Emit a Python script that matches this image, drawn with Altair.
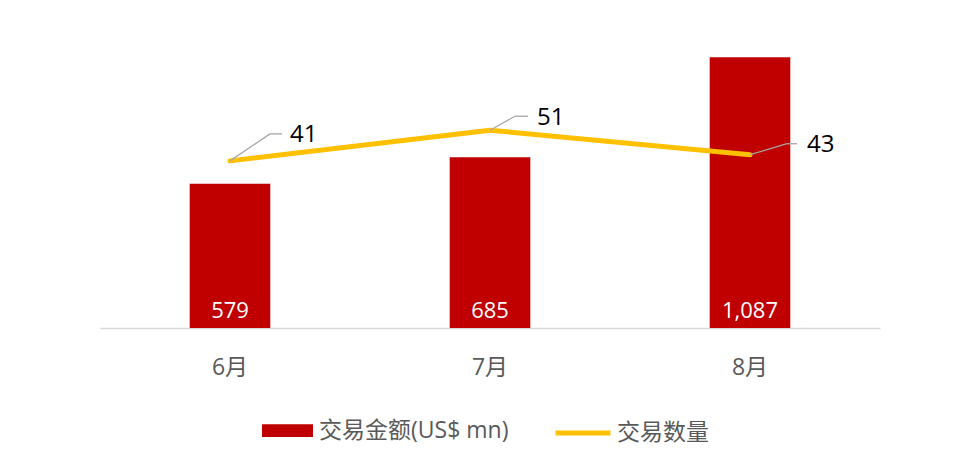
import altair as alt
import pandas as pd

months = ["6月", "7月", "8月"]
amounts = [579, 685, 1087]
counts = [41, 51, 43]
bar_series = "交易金额(US$ mn)"
line_series = "交易数量"

# style: leader-line / label placement per point (pixels): slant dx, dy, horizontal length, text dx, text dy
label_style = {
    "6月": (40, -27, 12, 60, -26),
    "7月": (25, -14, 13, 47, -12),
    "8月": (37, -11, 10, 57, -10),
}

FONT = "Open Sans, Noto Sans CJK SC, sans-serif"

df = pd.DataFrame({"month": months, "amount": amounts, "count": counts})
df["bar_series"] = bar_series
df["line_series"] = line_series
base = alt.Chart(df)

x = alt.X(
    "month:N",
    sort=months,
    scale=alt.Scale(paddingInner=0.69, paddingOuter=0.345),
    axis=alt.Axis(
        title=None, labelAngle=0, labelFontSize=23, labelColor="#595959",
        labelPadding=28, ticks=False, domainColor="#d9d9d9", domainWidth=1.3,
        grid=False, labelFont=FONT,
    ),
)

y_bar = alt.Y("amount:Q", scale=alt.Scale(domain=[0, 1200], nice=False, zero=True), axis=None)
y_line = alt.Y("count:Q", scale=alt.Scale(domain=[-13.5, 84], nice=False, zero=False), axis=None)

bars = base.mark_bar().encode(
    x=x,
    y=y_bar,
    fill=alt.Fill(
        "bar_series:N",
        scale=alt.Scale(domain=[bar_series], range=["#c00000"]),
        legend=alt.Legend(
            orient="none", legendX=162, legendY=376, title=None,
            symbolType="M-1,-0.25H1V0.25H-1Z", symbolSize=2601, symbolStrokeWidth=0,
            labelFontSize=23, labelColor="#595959", labelOffset=6, padding=0,
            labelFont=FONT, labelLimit=400,
        ),
    ),
)

bar_text = base.mark_text(
    color="white", fontSize=22, baseline="alphabetic", dy=-10, font=FONT
).encode(
    x=x,
    y=alt.YDatum(0),
    text=alt.Text("amount:Q", format=","),
)

bar_group = alt.layer(bars, bar_text)

line = base.mark_line(strokeWidth=5, strokeCap="round", strokeJoin="round").encode(
    x=x,
    y=y_line,
    stroke=alt.Stroke(
        "line_series:N",
        scale=alt.Scale(domain=[line_series], range=["#ffc000"]),
        legend=alt.Legend(
            orient="none", legendX=453, legendY=374, title=None,
            symbolType="stroke", symbolSize=3025, symbolStrokeWidth=5,
            labelFontSize=23, labelColor="#595959", labelOffset=4, padding=0,
            labelFont=FONT, labelLimit=400,
        ),
    ),
)

line_layers = [line]
for m in months:
    sdx, sdy, hl, tdx, tdy = label_style[m]
    sub = base.transform_filter(alt.datum.month == m)
    slant = sub.mark_rule(color="#a6a6a6", strokeWidth=1.3, x2Offset=sdx, y2Offset=sdy).encode(
        x=x, x2=alt.X2("month"), y=y_line, y2=alt.Y2("count"),
    )
    horiz = sub.mark_rule(
        color="#a6a6a6", strokeWidth=1.3, xOffset=sdx, x2Offset=sdx + hl, yOffset=sdy,
    ).encode(x=x, x2=alt.X2("month"), y=y_line)
    txt = sub.mark_text(
        align="left", baseline="middle", dx=tdx, dy=tdy, fontSize=24, color="#000000", font=FONT,
    ).encode(x=x, y=y_line, text=alt.Text("count:Q"))
    line_layers += [slant, horiz, txt]

line_group = alt.layer(*line_layers)

chart = (
    alt.layer(bar_group, line_group)
    .resolve_scale(y="independent")
    .properties(
        width=780, height=299,
        padding={"left": 92, "top": 21, "right": 40, "bottom": 120},
        autosize=alt.AutoSizeParams(type="none"),
    )
    .configure(font=FONT)
    .configure_view(stroke=None, strokeWidth=0)
)

chart.save("out.html", embed_options={"renderer": "svg", "actions": False})
